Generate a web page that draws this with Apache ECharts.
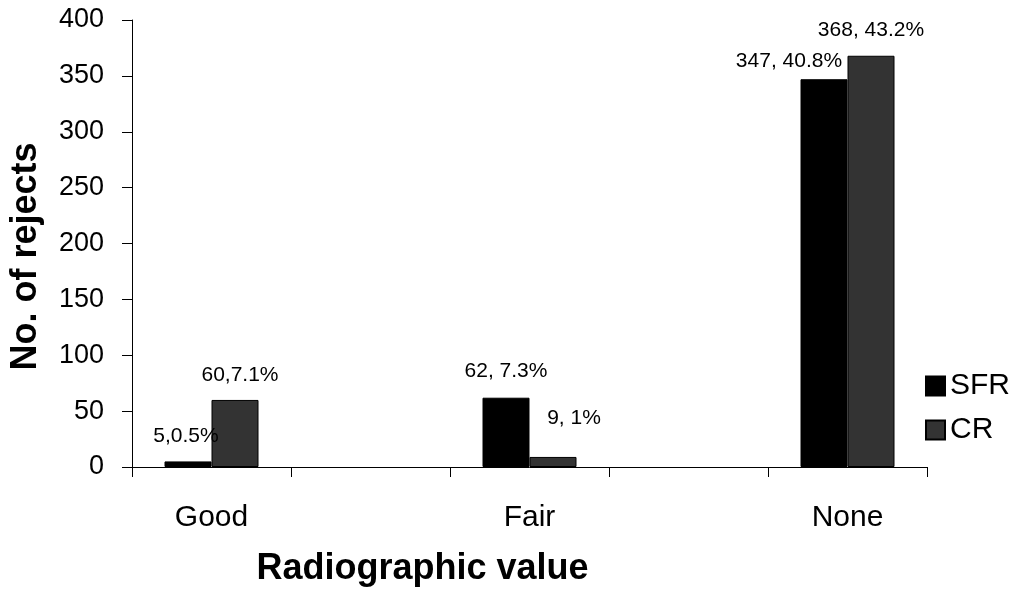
<!DOCTYPE html>
<html>
<head>
<meta charset="utf-8">
<script src="https://cdn.jsdelivr.net/npm/echarts@6/dist/echarts.min.js"></script>
<style>
  html, body { margin: 0; padding: 0; background: #fff; }
  #chart { width: 1018px; height: 592px; }
</style>
</head>
<body>
<div id="chart"></div>
<script>
  // categories (blank slots are the gaps between groups)
  var categories = ['Good', '', 'Fair', '', 'None'];
  var sfrValues = [5, null, 62, null, 347];
  var crValues = [60, null, 9, null, 368];
  var sfrLabels = ['5,0.5%', '', '62, 7.3%', '', '347, 40.8%'];
  var crLabels = ['60,7.1%', '', '9, 1%', '', '368, 43.2%'];
  var yTicks = [0, 50, 100, 150, 200, 250, 300, 350, 400];

  // label nudges, [dx, dy] from the bar top
  var sfrOffsets = [[-2, -10], null, [0, -11], null, [-35, -3]];
  var crOffsets = [[5, -9], null, [21, -23], null, [0, -10]];

  var font = 'Liberation Sans, Arial, sans-serif';

  function buildData(values, labels, offsets) {
    return values.map(function (v, i) {
      if (v === null) return null;
      return {
        value: v,
        label: {
          show: true,
          position: 'top',
          formatter: labels[i],
          offset: offsets[i]
        }
      };
    });
  }

  var chart = echarts.init(document.getElementById('chart'));
  var option = {
    backgroundColor: '#fff',
    animation: false,
    textStyle: { fontFamily: font, color: '#000' },
    grid: { left: 130, right: 91, top: 20, bottom: 120 },
    legend: {
      orient: 'vertical',
      left: 920,
      top: 366,
      itemWidth: 19,
      itemHeight: 19,
      itemGap: 14,
      icon: 'rect',
      textStyle: { fontSize: 30, color: '#000', fontFamily: font },
      data: ['SFR', 'CR']
    },
    xAxis: {
      type: 'category',
      data: categories,
      name: 'Radiographic value',
      nameLocation: 'middle',
      nameGap: 84,
      nameTextStyle: {
        fontSize: 36, fontWeight: 'bold', color: '#000', fontFamily: font,
        padding: [0, 214, 0, 0]
      },
      axisLine: { lineStyle: { color: '#000', width: 1 } },
      axisTick: { show: true, length: 10, lineStyle: { color: '#000' } },
      axisLabel: { fontSize: 30, color: '#000', margin: 36, fontFamily: font },
      splitLine: { show: false }
    },
    yAxis: {
      type: 'value',
      min: yTicks[0],
      max: yTicks[yTicks.length - 1],
      interval: yTicks[1] - yTicks[0],
      name: 'No. of rejects',
      nameLocation: 'middle',
      nameRotate: 90,
      nameGap: 88,
      nameTextStyle: {
        fontSize: 36, fontWeight: 'bold', color: '#000', fontFamily: font,
        padding: [0, 26, 0, 0]
      },
      axisLine: { show: true, lineStyle: { color: '#000', width: 1 } },
      axisTick: { show: true, length: 10, lineStyle: { color: '#000' } },
      axisLabel: { fontSize: 27, color: '#000', margin: 28, fontFamily: font },
      splitLine: { show: false }
    },
    series: [
      {
        name: 'SFR',
        type: 'bar',
        barWidth: 47,
        barGap: '0%',
        itemStyle: { color: '#000', borderColor: '#000', borderWidth: 1 },
        label: { fontSize: 21, color: '#000', fontFamily: font },
        data: buildData(sfrValues, sfrLabels, sfrOffsets)
      },
      {
        name: 'CR',
        type: 'bar',
        barWidth: 47,
        barGap: '0%',
        itemStyle: { color: '#333333', borderColor: '#000', borderWidth: 1 },
        label: { fontSize: 21, color: '#000', fontFamily: font },
        data: buildData(crValues, crLabels, crOffsets)
      }
    ]
  };
  chart.setOption(option);
</script>
</body>
</html>
